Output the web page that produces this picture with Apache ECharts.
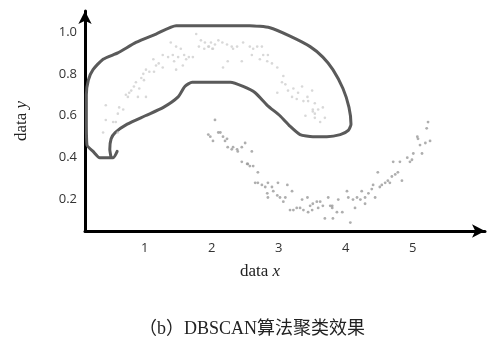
<!DOCTYPE html>
<html>
<head>
<meta charset="utf-8">
<script src="https://cdn.jsdelivr.net/npm/echarts@6/dist/echarts.min.js"></script>
<style>
  html, body { margin: 0; padding: 0; background: #fff; }
  #chart { width: 496px; height: 337px; }
</style>
</head>
<body>
<div id="chart"></div>
<script>
// tick labels
var xTicks = [1, 2, 3, 4, 5];
var yTicks = [0.2, 0.4, 0.6, 0.8, 1.0];

// upper moon (light grey points)
var upperMoon = [
  [1.77,0.99],[1.84,0.96],[1.81,0.93],[1.89,0.92],[1.96,0.93],[2.02,0.92],[1.99,0.95],
  [1.39,0.95],[1.47,0.93],[1.54,0.92],[1.59,0.89],[1.66,0.88],[1.72,0.88],[1.27,0.89],
  [1.35,0.88],[1.42,0.89],[1.50,0.88],[1.44,0.86],[1.62,0.87],[1.13,0.87],[1.17,0.84],
  [1.21,0.85],[1.27,0.83],[1.47,0.82],[1.57,0.84],[1.02,0.82],[1.07,0.81],[1.14,0.81],
  [0.98,0.80],[0.95,0.78],[0.99,0.77],[0.87,0.76],[0.84,0.74],[0.80,0.72],[0.92,0.73],
  [1.02,0.69],[0.90,0.69],[0.72,0.70],[0.75,0.69],[0.77,0.71],[0.42,0.65],[0.62,0.64],
  [0.68,0.63],[0.60,0.61],[0.57,0.57],[0.53,0.57],[0.42,0.58],[0.38,0.52],[0.60,0.52],
  [1.90,0.95],[1.95,0.93],[2.01,0.92],[2.05,0.94],[2.10,0.96],[2.16,0.95],[2.23,0.94],
  [2.30,0.93],[2.32,0.92],[2.38,0.93],[2.47,0.95],[2.57,0.93],[2.62,0.92],[2.68,0.93],
  [2.75,0.93],[2.60,0.89],[2.77,0.89],[2.84,0.89],[2.72,0.87],[2.83,0.86],[2.90,0.85],
  [2.98,0.83],[2.45,0.86],[2.24,0.86],[2.17,0.83],[3.07,0.79],[3.05,0.76],[2.98,0.71],
  [3.10,0.75],[3.14,0.72],[3.22,0.73],[3.29,0.71],[3.35,0.74],[3.50,0.72],[3.20,0.69],
  [3.27,0.68],[3.37,0.67],[3.43,0.69],[3.51,0.63],[3.59,0.63],[3.66,0.64],[3.54,0.61],
  [3.40,0.60],[3.54,0.59],[3.69,0.59],[3.62,0.57],[3.44,0.67],[3.54,0.66],[3.51,0.62]
];

// lower moon (grey points)
var lowerMoon = [
  [2.05,0.58],[1.95,0.51],[1.98,0.50],[2.10,0.52],[2.13,0.52],[2.17,0.50],[2.23,0.49],
  [2.02,0.48],[2.20,0.48],[2.24,0.45],[2.30,0.44],[2.32,0.45],[2.38,0.44],[2.39,0.43],
  [2.45,0.45],[2.50,0.47],[2.60,0.43],[2.45,0.38],[2.53,0.37],[2.54,0.37],[2.57,0.36],
  [2.62,0.36],[2.69,0.33],[2.65,0.28],[2.69,0.28],[2.75,0.27],[2.80,0.26],[2.84,0.28],
  [2.90,0.26],[2.99,0.28],[3.13,0.27],[3.20,0.24],[2.92,0.24],[2.98,0.22],[2.83,0.23],
  [2.84,0.21],[3.02,0.21],[3.07,0.19],[3.10,0.21],[3.17,0.15],[3.22,0.15],[3.27,0.16],
  [3.32,0.16],[3.37,0.15],[3.44,0.14],[3.50,0.15],[3.35,0.20],[3.43,0.21],[3.47,0.17],
  [3.51,0.18],[3.57,0.19],[3.62,0.19],[3.66,0.17],[3.74,0.21],[3.80,0.17],[3.69,0.11],
  [3.81,0.11],[3.59,0.16],[5.23,0.57],[5.21,0.54],[5.07,0.50],[5.08,0.49],[5.11,0.46],
  [5.19,0.47],[5.26,0.48],[5.01,0.42],[5.14,0.42],[4.92,0.40],[4.96,0.38],[4.99,0.39],
  [4.81,0.38],[4.71,0.38],[4.78,0.33],[4.74,0.32],[4.84,0.29],[4.69,0.31],[4.66,0.28],
  [4.63,0.29],[4.59,0.28],[4.54,0.27],[4.51,0.26],[4.48,0.33],[4.41,0.27],[4.39,0.25],
  [4.34,0.23],[4.44,0.21],[4.29,0.21],[4.24,0.24],[4.22,0.20],[4.17,0.21],[4.11,0.20],
  [4.02,0.24],[4.04,0.21],[3.89,0.20],[4.29,0.18],[4.14,0.16],[3.95,0.14],[3.87,0.14],
  [4.07,0.09],[3.77,0.17],[3.80,0.16]
];

// hand-drawn outline around the upper cluster
var outline = [
  [0.59,0.43],[0.53,0.40],[0.33,0.40],[0.23,0.43],[0.14,0.46],[0.13,0.58],[0.13,0.70],
  [0.16,0.77],[0.23,0.82],[0.38,0.87],[0.60,0.90],[0.87,0.95],[1.17,0.99],[1.47,1.03],
  [1.68,1.03],[2.57,1.03],[2.87,1.02],[3.17,0.98],[3.47,0.93],[3.66,0.88],[3.81,0.82],
  [3.96,0.73],[4.05,0.64],[4.08,0.56],[4.04,0.53],[3.92,0.51],[3.72,0.50],[3.51,0.50],
  [3.32,0.51],[3.17,0.55],[3.02,0.60],[2.83,0.65],[2.65,0.71],[2.47,0.74],[2.28,0.76],
  [2.17,0.76],[1.71,0.76],[1.60,0.74],[1.50,0.69],[1.28,0.64],[1.01,0.60],[0.74,0.56],
  [0.56,0.52],[0.50,0.49],[0.48,0.44],[0.50,0.40]
];

var chart = echarts.init(document.getElementById('chart'), null, { renderer: 'canvas' });

var serif = "'Liberation Serif', 'DejaVu Serif', serif";
var axisLine = {
  show: true,
  symbol: ['none', 'arrow'],
  symbolSize: [10, 13],
  lineStyle: { color: '#000', width: 3 }
};

chart.setOption({
  backgroundColor: '#fff',
  animation: false,
  title: {
    text: '（b）DBSCAN算法聚类效果',
    left: 134,
    top: 315,
    textStyle: {
      fontFamily: "'Liberation Serif', 'Noto Sans CJK SC', serif",
      fontSize: 18,
      fontWeight: 'normal',
      color: '#222'
    }
  },
  grid: {
    left: 85,
    right: 11,
    top: 11,
    bottom: 106,
    containLabel: false,
    outerBoundsMode: 'none'
  },
  xAxis: {
    type: 'value',
    min: 0.11,
    max: 6.08,
    axisLine: axisLine,
    axisTick: { show: false },
    splitLine: { show: false },
    axisLabel: {
      customValues: xTicks,
      margin: 11,
      color: '#333',
      fontSize: 13,
      fontFamily: "'Open Sans', 'Liberation Sans', sans-serif"
    },
    name: '{a|data }{b|x}',
    nameLocation: 'middle',
    nameGap: 32,
    nameTextStyle: {
      padding: [0, 50, 0, 0],
      rich: {
        a: { fontFamily: serif, fontSize: 17, color: '#222' },
        b: { fontFamily: serif, fontSize: 17, fontStyle: 'italic', color: '#222' }
      }
    }
  },
  yAxis: {
    type: 'value',
    min: 0.05,
    max: 1.10,
    axisLine: axisLine,
    axisTick: { show: false },
    splitLine: { show: false },
    axisLabel: {
      customValues: yTicks,
      margin: 8,
      color: '#333',
      fontSize: 13,
      fontFamily: "'Open Sans', 'Liberation Sans', sans-serif",
      formatter: function (v) { return v.toFixed(1); }
    },
    name: '{a|data }{b|y}',
    nameLocation: 'middle',
    nameRotate: 90,
    nameGap: 55,
    nameTextStyle: {
      rich: {
        a: { fontFamily: serif, fontSize: 17, color: '#222' },
        b: { fontFamily: serif, fontSize: 17, fontStyle: 'italic', color: '#222' }
      }
    }
  },
  series: [
    {
      type: 'scatter',
      data: upperMoon,
      symbol: 'circle',
      symbolSize: 2.6,
      silent: true,
      itemStyle: { color: '#cecece' }
    },
    {
      type: 'scatter',
      data: lowerMoon,
      symbol: 'circle',
      symbolSize: 2.8,
      silent: true,
      itemStyle: { color: '#9a9a9a' }
    },
    {
      type: 'line',
      data: outline,
      showSymbol: false,
      smooth: 0.2,
      silent: true,
      z: 1,
      lineStyle: { color: '#5a5a5a', width: 3, join: 'round', cap: 'round' }
    }
  ]
});
</script>
</body>
</html>
